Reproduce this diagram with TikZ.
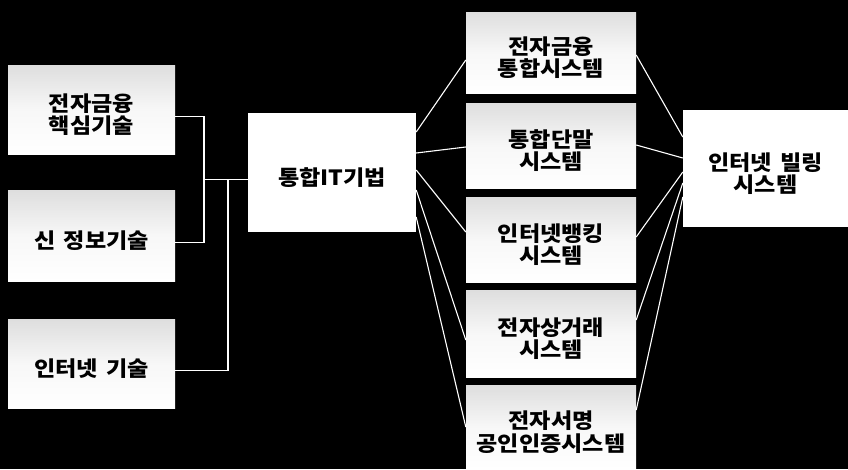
\documentclass[tikz,border=0pt]{standalone}
\usepackage{fontspec}
\setmainfont{Noto Sans CJK KR}[BoldFont={Noto Sans CJK KR Black}, BoldFeatures={FakeStretch=1.1}]
\newcommand\twolines[2]{\raisebox{-1.5pt}[0pt][0pt]{\vtop{\hbox to 0pt{\hss#1\hss}\hbox to 0pt{\hss#2\hss}}}}
\newcommand\oneline[1]{\raisebox{-13pt}[0pt][0pt]{\hbox to 0pt{\hss#1\hss}}}
\newcommand\wsp{\hspace{3pt}}
\begin{document}
\begin{tikzpicture}[x=1pt,y=-1pt,
  box/.style={draw=none, inner sep=0pt, text=black,
    font=\bfseries\fontsize{21}{22.5}\selectfont},
  sbox/.style={box, top color=black!13, bottom color=white, middle color=white!97!black},
  wbox/.style={box, fill=white},
  conn/.style={draw=white, line width=1.1pt}]
\fill[black] (0,0) rectangle (848,469);
\useasboundingbox (0,0) rectangle (848,469);
% left column
\node[sbox, minimum width=167pt, minimum height=89pt] (L1) at (91.5,109.5) {\twolines{전자금융}{핵심기술}};
\node[sbox, minimum width=167pt, minimum height=91pt] (L2) at (91.5,235.5) {\oneline{신 \wsp 정보기술}};
\node[sbox, minimum width=167pt, minimum height=89pt] (L3) at (91.5,363.5) {\oneline{인터넷 \wsp 기술}};
% center
\node[wbox, minimum width=168pt, minimum height=119pt] (C) at (332,172.5) {\oneline{통합IT기법}};
% middle column
\node[sbox, minimum width=170pt, minimum height=81pt] (M1) at (551,52.5) {\twolines{전자금융}{통합시스템}};
\node[sbox, minimum width=170pt, minimum height=85pt] (M2) at (551,145.5) {\twolines{통합단말}{시스템}};
\node[sbox, minimum width=170pt, minimum height=85pt] (M3) at (551,239.5) {\twolines{인터넷뱅킹}{시스템}};
\node[sbox, minimum width=170pt, minimum height=87pt] (M4) at (551,333.5) {\twolines{전자상거래}{시스템}};
\node[sbox, minimum width=170pt, minimum height=84pt] (M5) at (551,427) {\twolines{전자서명}{공인인증시스템}};
% right
\node[wbox, minimum width=165pt, minimum height=117pt] (R) at (765.5,168.5) {\twolines{인터넷 \wsp 빌링}{시스템}};
% junction coordinates
\coordinate (jA) at (204,116.5);
\coordinate (jB) at (204,242.5);
\coordinate (jM) at (204,179.5);
\coordinate (jC) at (228,370.5);
\coordinate (jD) at (228,179.5);
% left connectors
\draw[conn] ([yshift=-7pt]L1.east) -- (jA) -- (jB) -- ([yshift=-7pt]L2.east);
\draw[conn] (jM) -- ([yshift=-7pt]C.west);
\draw[conn] ([yshift=-7pt]L3.east) -- (jC) -- (jD);
% center to middle
\draw[conn] ([yshift=40.5pt]C.east) -- ([yshift=-7.5pt]M1.west);
\draw[conn] ([yshift=19.5pt]C.east) -- ([yshift=-1.5pt]M2.west);
\draw[conn] ([yshift=2.5pt]C.east) -- ([yshift=7.5pt]M3.west);
\draw[conn] ([yshift=-17.5pt]C.east) -- ([yshift=-6.5pt]M4.west);
\draw[conn] ([yshift=-44.5pt]C.east) -- (M5.west);
% middle to right
\draw[conn] ([yshift=-2.5pt]M1.east) -- ([yshift=31.5pt]R.west);
\draw[conn] ([yshift=0.5pt]M2.east) -- ([yshift=10.5pt]R.west);
\draw[conn] ([yshift=2.5pt]M3.east) -- ([yshift=-3.5pt]R.west);
\draw[conn] ([yshift=13.5pt]M4.east) -- ([yshift=-14.5pt]R.west);
\draw[conn] ([yshift=17pt]M5.east) -- ([yshift=-28.5pt]R.west);
\end{tikzpicture}
\end{document}
